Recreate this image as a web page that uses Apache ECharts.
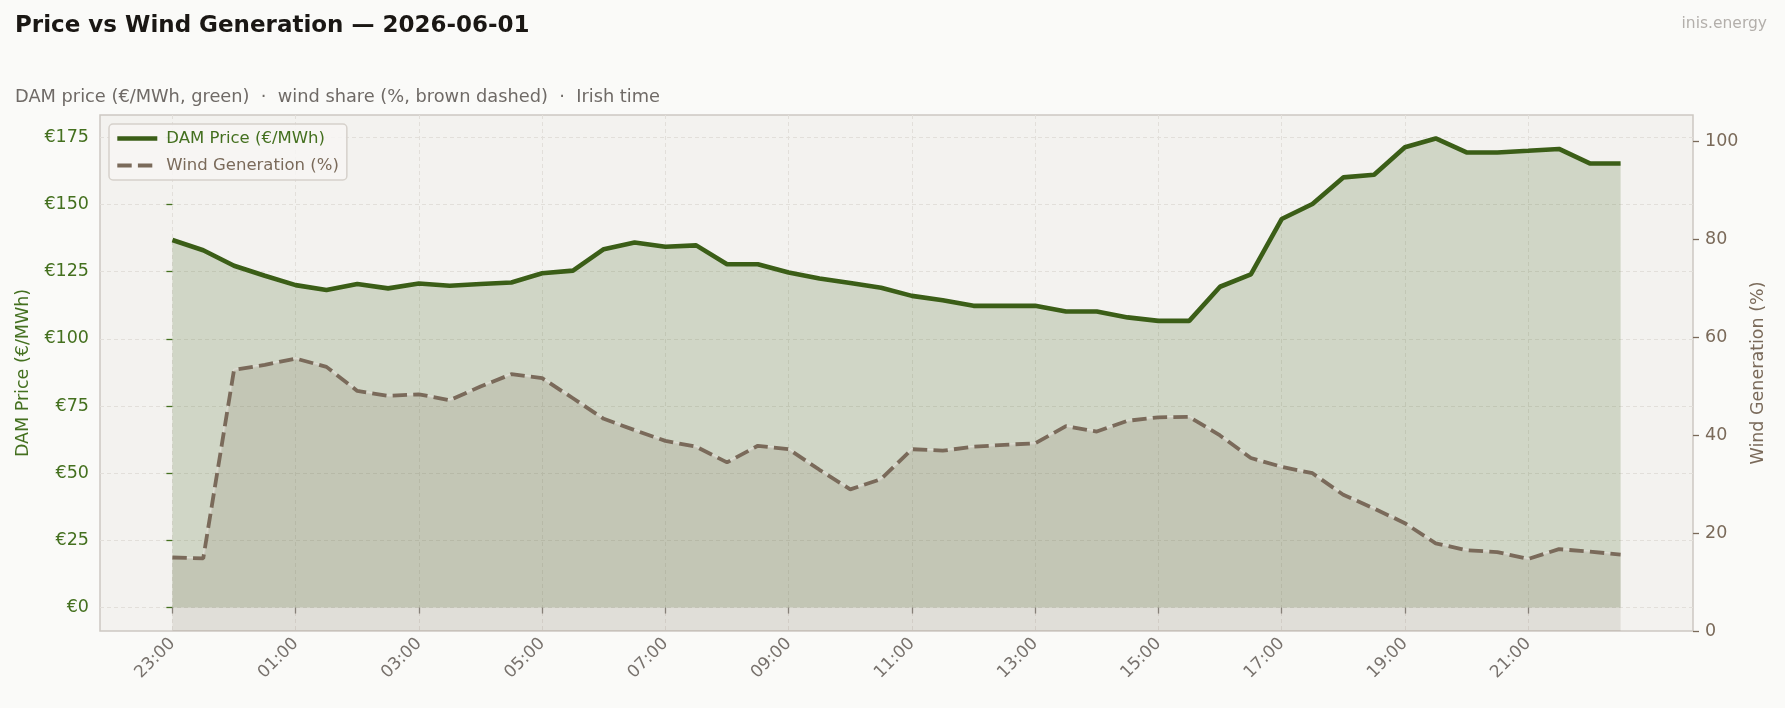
<!DOCTYPE html>
<html>
<head>
<meta charset="utf-8">
<title>Price vs Wind Generation</title>
<script src="https://cdn.jsdelivr.net/npm/echarts@6.0.0/dist/echarts.min.js"></script>
<style>
  html, body { margin: 0; padding: 0; background: #fafaf8; }
  #chart { width: 1785px; height: 708px; }
</style>
</head>
<body>
<div id="chart"></div>
<script>
// half-hourly slots, Irish time
const times = [
  "23:00", "23:30", "00:00", "00:30", "01:00", "01:30", "02:00", "02:30",
  "03:00", "03:30", "04:00", "04:30", "05:00", "05:30", "06:00", "06:30",
  "07:00", "07:30", "08:00", "08:30", "09:00", "09:30", "10:00", "10:30",
  "11:00", "11:30", "12:00", "12:30", "13:00", "13:30", "14:00", "14:30",
  "15:00", "15:30", "16:00", "16:30", "17:00", "17:30", "18:00", "18:30",
  "19:00", "19:30", "20:00", "20:30", "21:00", "21:30", "22:00", "22:30",
];

// DAM price, €/MWh
const price = [
  136.8, 133.0, 127.2, 123.5, 120.0, 118.2, 120.4, 118.8,
  120.6, 119.8, 120.4, 121.0, 124.4, 125.4, 133.4, 135.9,
  134.3, 134.8, 127.8, 127.8, 124.7, 122.5, 120.8, 119.0,
  116.0, 114.4, 112.3, 112.3, 112.3, 110.2, 110.2, 108.0,
  106.7, 106.7, 119.4, 124.0, 144.6, 150.2, 160.1, 161.1,
  171.3, 174.6, 169.4, 169.4, 170.0, 170.7, 165.3, 165.3,
];

// wind share of generation, %
const wind = [
  15.0, 14.8, 53.3, 54.3, 55.6, 53.9, 49.0, 48.0,
  48.3, 47.1, 49.9, 52.4, 51.6, 47.5, 43.3, 41.0,
  38.8, 37.6, 34.4, 37.8, 37.1, 32.9, 28.9, 31.0,
  37.1, 36.8, 37.6, 38.0, 38.3, 41.8, 40.7, 42.9,
  43.6, 43.7, 39.9, 35.3, 33.5, 32.2, 27.8, 25.0,
  22.0, 17.9, 16.5, 16.1, 14.7, 16.7, 16.2, 15.6,
];

const xTickLabels = ["23:00", "01:00", "03:00", "05:00", "07:00", "09:00",
  "11:00", "13:00", "15:00", "17:00", "19:00", "21:00"];
const priceTicks = [0, 25, 50, 75, 100, 125, 150, 175];
const windTicks = [0, 20, 40, 60, 80, 100];

const GREEN = "#3b5e17";
const GREEN_TEXT = "#44701f";
const BROWN = "#7a6a5a";
const GREY = "#77716c";
const FONT = "DejaVu Sans";

// hours since the first slot (23:00)
function hoursFromStart(t) {
  const [hh, mm] = t.split(":").map(Number);
  return (hh + mm / 60 - 23 + 24) % 24;
}

const xs = times.map(hoursFromStart);
const xTickValues = xTickLabels.map(hoursFromStart);
const pricePoints = xs.map((x, i) => [x, price[i]]);
const windPoints = xs.map((x, i) => [x, wind[i]]);

// matplotlib-style 5% margins
const xSpan = xs[xs.length - 1] - xs[0];
const pMax = Math.max(...price);

const chart = echarts.init(document.getElementById("chart"), null, { renderer: "canvas" });

chart.setOption({
  backgroundColor: "#fafaf8",
  animation: false,
  textStyle: { fontFamily: FONT },
  title: [
    {
      text: "Price vs Wind Generation — 2026-06-01",
      left: 10, top: 10,
      textStyle: { fontFamily: FONT, fontSize: 23, fontWeight: "bold", color: "#1a1714" },
    },
    {
      text: "DAM price (€/MWh, green)  ·  wind share (%, brown dashed)  ·  Irish time",
      left: 10, top: 83,
      textStyle: { fontFamily: FONT, fontSize: 17.8, fontWeight: "normal", color: "#6f6a66" },
    },
    {
      text: "inis.energy",
      right: 13, top: 11,
      textStyle: { fontFamily: FONT, fontSize: 15.5, fontWeight: "normal", color: "#b3afab" },
    },
  ],
  legend: {
    orient: "vertical",
    left: 109, top: 124,
    data: [
      {
        name: "DAM Price (€/MWh)",
        textStyle: { color: GREEN_TEXT },
        lineStyle: { width: 4.6 },
      },
      {
        name: "Wind Generation (%)",
        textStyle: { color: BROWN },
        lineStyle: { width: 3.8 },
      },
    ],
    itemWidth: 40, itemHeight: 14, itemGap: 10,
    padding: [6, 8, 6, 6],
    backgroundColor: "rgba(247,246,243,0.85)",
    borderColor: "#d6d1cb", borderWidth: 1.5, borderRadius: 4,
    itemStyle: { opacity: 0 },
    textStyle: { fontFamily: FONT, fontSize: 16.5, padding: [0, 0, 0, 4] },
  },
  grid: {
    left: 100, right: 92, top: 115, bottom: 77,
    show: true,
    backgroundColor: "#f3f2ef",
    borderColor: "#cdc8c2", borderWidth: 1.5,
  },
  xAxis: {
    type: "value",
    min: xs[0] - 0.05 * xSpan,
    max: xs[xs.length - 1] + 0.05 * xSpan,
    axisLine: { show: false },
    axisTick: {
      show: true, length: 6, customValues: xTickValues,
      lineStyle: { color: "#8a857f", width: 1.3 },
    },
    axisLabel: {
      customValues: xTickValues,
      rotate: 45, margin: 10,
      fontFamily: FONT, fontSize: 17, color: GREY,
      formatter: (v) => xTickLabels[xTickValues.indexOf(v)] || "",
    },
    splitLine: {
      show: true,
      lineStyle: { color: "#e2dfda", type: [4, 3], width: 1 },
    },
  },
  yAxis: [
    {
      type: "value",
      min: -0.05 * pMax,
      max: pMax * 1.05,
      name: "DAM Price (€/MWh)",
      nameLocation: "middle", nameGap: 68, nameRotate: 90,
      nameTextStyle: { fontFamily: FONT, fontSize: 17.5, color: GREEN_TEXT },
      axisLine: { show: false },
      axisTick: {
        show: true, length: 6, customValues: priceTicks,
        lineStyle: { color: GREEN_TEXT, width: 1.3 },
      },
      axisLabel: {
        customValues: priceTicks, margin: 11,
        fontFamily: FONT, fontSize: 17.5, color: GREEN_TEXT,
        formatter: (v) => "€" + v,
      },
      splitLine: {
        show: true,
        lineStyle: { color: "#e2dfda", type: [4, 3], width: 1 },
      },
    },
    {
      type: "value",
      position: "right",
      min: 0, max: 105.3,
      name: "Wind Generation (%)",
      nameLocation: "middle", nameGap: 55, nameRotate: 90,
      nameTextStyle: { fontFamily: FONT, fontSize: 17.5, color: BROWN },
      axisLine: { show: false },
      axisTick: {
        show: true, length: 6, customValues: windTicks,
        lineStyle: { color: BROWN, width: 1.3 },
      },
      axisLabel: {
        customValues: windTicks, margin: 12,
        fontFamily: FONT, fontSize: 17.5, color: BROWN,
      },
      splitLine: { show: false },
    },
  ],
  series: [
    {
      name: "DAM Price (€/MWh)",
      type: "line",
      data: pricePoints,
      yAxisIndex: 0,
      symbol: "none",
      lineStyle: { color: GREEN, width: 4.6 },
      itemStyle: { color: GREEN },
      areaStyle: { color: "rgba(61,94,23,0.19)", opacity: 1, origin: 0 },
      z: 3,
    },
    {
      name: "windHalo",
      type: "line",
      data: windPoints,
      yAxisIndex: 1,
      symbol: "none",
      silent: true,
      lineStyle: { color: "rgba(226,225,216,0.8)", width: 2.2 },
      z: 4,
    },
    {
      name: "Wind Generation (%)",
      type: "line",
      data: windPoints,
      yAxisIndex: 1,
      symbol: "none",
      lineStyle: { color: BROWN, width: 3.8, type: [14.4, 6.2] },
      itemStyle: { color: BROWN },
      areaStyle: { color: "rgba(122,106,90,0.15)", opacity: 1, origin: "start" },
      z: 5,
    },
  ],
});

window.addEventListener("resize", () => chart.resize());
</script>
</body>
</html>
